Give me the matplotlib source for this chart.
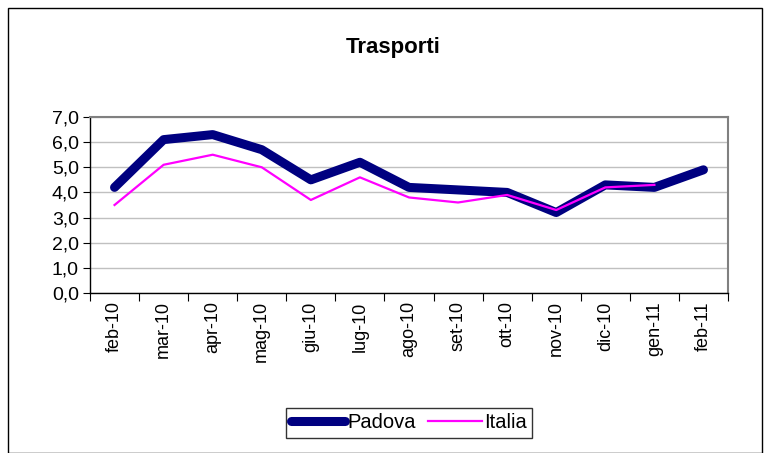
import matplotlib
matplotlib.use("Agg")
import matplotlib.pyplot as plt
from matplotlib.patches import Rectangle

plt.rcParams['font.family'] = ['Liberation Sans', 'DejaVu Sans']

mesi = ["feb-10", "mar-10", "apr-10", "mag-10", "giu-10", "lug-10", "ago-10",
        "set-10", "ott-10", "nov-10", "dic-10", "gen-11", "feb-11"]
padova = [4.2, 6.1, 6.3, 5.7, 4.5, 5.2, 4.2, 4.1, 4.0, 3.2, 4.3, 4.2, 4.9]
italia = [3.5, 5.1, 5.5, 5.0, 3.7, 4.6, 3.8, 3.6, 3.9, 3.3, 4.2, 4.3]

fig = plt.figure(figsize=(7.69, 4.53), dpi=100)
# outer chart frame
fig.patches.append(Rectangle((8 / 769, 0.0), 754 / 769, 1 - 8 / 453, transform=fig.transFigure,
                             fill=False, edgecolor="black", linewidth=1.0))

ax = fig.add_axes([90 / 769, 1 - 293 / 453, 638 / 769, 176 / 453])

x = list(range(len(mesi)))
ax.plot(x, padova, color="#000080", linewidth=6.5, solid_capstyle="round", label="Padova", zorder=3)
ax.plot(x[:len(italia)], italia, color="#FF00FF", linewidth=1.6, label="Italia", zorder=4)

ax.set_xlim(-0.5, len(mesi) - 0.5)
ax.set_ylim(0, 7)
ax.set_yticks([i for i in range(8)])
ax.set_yticklabels([f"{i},0" for i in range(8)], fontsize=14)
ax.set_xticks([i - 0.5 for i in range(len(mesi) + 1)])
ax.set_xticklabels([])
ax.set_xticks(x, minor=True)
ax.set_xticklabels(mesi, minor=True, rotation=90, fontsize=13)
ax.tick_params(axis="x", which="minor", length=0, pad=6)
ax.tick_params(axis="x", which="major", length=6, direction="out", color="black")
ax.tick_params(axis="y", length=5, direction="out", color="black", pad=3)

ax.grid(axis="y", color="#C0C0C0", linewidth=1)
ax.set_axisbelow(True)
for s in ["top", "right"]:
    ax.spines[s].set_color("#808080")
    ax.spines[s].set_linewidth(1.5)
for s in ["left", "bottom"]:
    ax.spines[s].set_color("black")
    ax.spines[s].set_linewidth(1)

fig.text(393 / 769, 1 - 48 / 453, "Trasporti", ha="center", va="center", fontsize=16, fontweight="bold")

leg = fig.legend(loc="center", bbox_to_anchor=(409 / 769, 1 - 423 / 453), ncol=2, fontsize=14.5,
                 frameon=True, fancybox=False, edgecolor="black", handlelength=2.7,
                 handletextpad=0.1, columnspacing=0.6, borderpad=0.25, borderaxespad=0)
leg.get_frame().set_linewidth(1)

fig.savefig("out.png", dpi=100)
